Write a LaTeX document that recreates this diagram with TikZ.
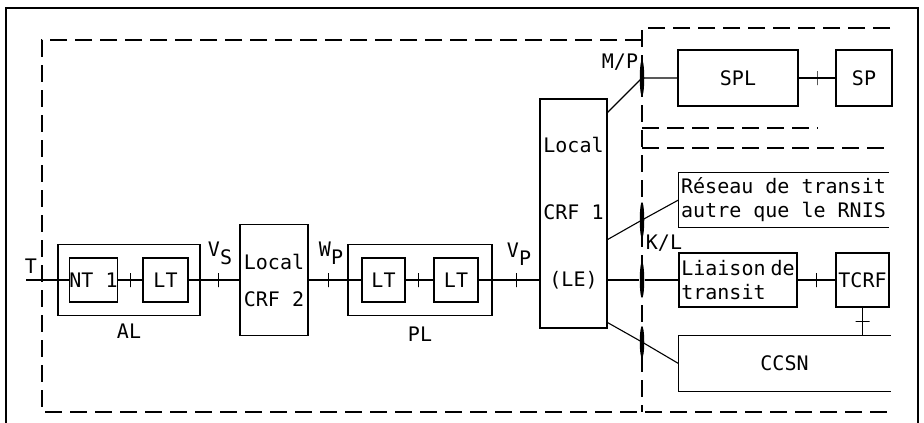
\documentclass[tikz,border=0pt]{standalone}
\usepackage{fontspec}
\newfontfamily\diafont{DejaVu Sans Mono}
\usetikzlibrary{positioning, shapes.geometric}

\begin{document}
\begin{tikzpicture}[
    x=1pt, y=-1pt,
    font=\diafont\fontsize{20}{24}\selectfont,
    line width=1.1pt,
    box/.style={draw, inner sep=0pt, align=center},
    bare/.style={inner sep=0pt},
    dashline/.style={dash pattern=on 17pt off 8pt},
    tick/.style={draw, line width=1pt, minimum width=0pt, minimum height=14pt, inner sep=0pt},
    htick/.style={draw, line width=1pt, minimum width=14pt, minimum height=0pt, inner sep=0pt},
    joint/.style={ellipse, fill, minimum width=4.5pt, minimum height=36pt, inner sep=0pt}
  ]
    \useasboundingbox (0,0) rectangle (924,423);
    % frame and areas
    \draw (6,423) -- (6,8) -- (918,8) -- (918,423);
    \draw[dashline] (642,40) -- (42,40) -- (42,412) -- (890,412);
    \draw[dashline] (890,28) -- (642,28) -- (642,412);
    \draw[dashline] (642,128) -- (818,128);
    \draw[dashline] (642,148) -- (890,148);

    % access and local exchanges
    \coordinate (tin) at (26,280);
    \node[bare] (tlab) at (31,266) {T};
    \node[box, minimum width=142pt, minimum height=71pt,
      label={[bare, yshift=-7pt]below:AL}] (al) at (129,280) {};
    \node[box, minimum width=45pt, minimum height=44pt] (nt) at (93.5,280) {NT 1};
    \node[box, minimum width=45pt, minimum height=44pt] (lta) at (165.5,280) {LT};
    \node[box, minimum width=68pt, minimum height=111pt] (crfb) at (274,280) {Local\\[13pt]CRF 2};
    \node[box, minimum width=144pt, minimum height=71pt,
      label={[bare, yshift=-10pt]below:PL}] (pl) at (420,280) {};
    \node[box, minimum width=43pt, minimum height=44pt] (ltb) at (383.5,280) {LT};
    \node[box, minimum width=44pt, minimum height=44pt] (ltc) at (456,280) {LT};
    \node[box, minimum width=67pt, minimum height=229pt] (crfa) at (573.5,213.5)
      {Local\\[43pt]CRF 1\\[43pt](LE)};
    \node[bare] (vs) at (220,253) {V\raisebox{-8pt}{S}};
    \node[bare] (wp) at (331,253) {W\raisebox{-8pt}{P}};
    \node[bare] (vp) at (519,254) {V\raisebox{-8pt}{P}};

    % right-hand networks
    \node[box, minimum width=120pt, minimum height=56pt] (spl) at (738,78) {SPL};
    \node[box, minimum width=56pt, minimum height=56pt] (sp) at (864,78) {SP};
    \node[bare, minimum width=209pt, minimum height=54pt, align=left] (reseau) at (783.5,200)
      {Réseau de transit\\autre que le RNIS};
    \node[box, minimum width=118pt, minimum height=54pt, align=left] (liaison) at (738,280)
      {Liaison\hspace{5pt}de\\transit};
    \node[box, minimum width=53pt, minimum height=54pt] (tcrf) at (862.5,280) {TCRF};
    \node[bare, minimum width=211pt, minimum height=55pt] (ccsn) at (784.5,363.5) {CCSN};
    \draw (reseau.north east) -- (reseau.north west) -- (reseau.south west) -- (reseau.south east);
    \draw (ccsn.north east) -- (ccsn.north west) -- (ccsn.south west) -- (ccsn.south east);

    % reference points
    \node[joint] (mp) at (642,78) {};
    \node[joint] (kla) at (642,220) {};
    \node[joint] (klb) at (642,280) {};
    \node[joint, minimum height=32pt] (klc) at (642,342) {};
    \node[bare] (mplab) at (620,62) {M/P};
    \node[bare] (kllab) at (664,243) {K/L};

    % connections
    \draw (tin) -- (nt);
    \draw (nt) -- node[tick]{} (lta);
    \draw (lta) -- node[tick, pos=0.58]{} (crfb);
    \draw (crfb) -- node[tick, pos=0.37]{} (ltb);
    \draw (ltb) -- node[tick, pos=0.45]{} (ltc);
    \draw (ltc) -- node[tick, pos=0.63]{} (crfa.west |- ltc);
    \draw ([yshift=-14pt]crfa.north east) -- (mp.center) -- (spl);
    \draw (spl) -- node[tick]{} (sp);
    \draw ([yshift=89pt]crfa.south east) -- (kla.center) -- (reseau.west);
    \draw (crfa.east |- klb) -- (klb) -- (liaison);
    \draw ([yshift=6pt]crfa.south east) -- (klc.center) -- (ccsn.west);
    \draw (liaison) -- node[tick]{} (tcrf);
    \draw (tcrf) -- node[htick]{} (tcrf |- ccsn.north);
\end{tikzpicture}
\end{document}
